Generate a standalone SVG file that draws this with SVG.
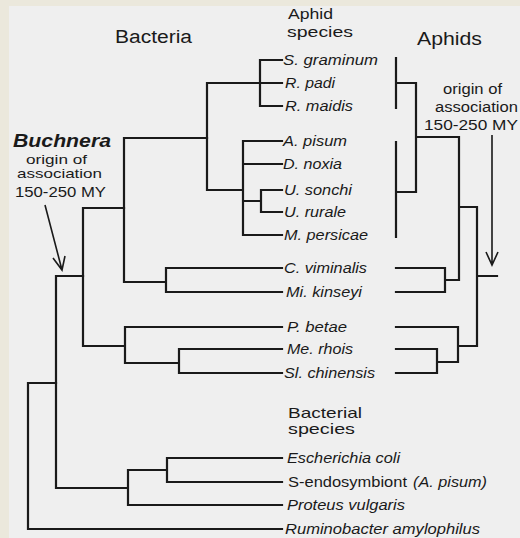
<svg xmlns="http://www.w3.org/2000/svg" width="520" height="538" viewBox="0 0 520 538">
<style>
text{font-family:"Liberation Sans",Arial,sans-serif;fill:#1a1a1a}
.lf{font-size:14px;font-style:italic}
.hd{font-size:18px}
.sm{font-size:14px}
.br{fill:none;stroke:#1a1a1a;stroke-width:2.2;stroke-linecap:square}
.ar{fill:none;stroke:#1a1a1a;stroke-width:1.6}
</style>
<rect x="0" y="0" width="520" height="538" fill="#ebe8dc"/>
<rect x="9" y="6" width="511" height="532" fill="#efefef"/>
<g id="headers">
<text class="hd" x="115" y="43" textLength="77" lengthAdjust="spacingAndGlyphs">Bacteria</text>
<text class="hd" x="417" y="45" textLength="65" lengthAdjust="spacingAndGlyphs">Aphids</text>
<text class="sm" x="288" y="19" style="font-size:15px" textLength="45" lengthAdjust="spacingAndGlyphs">Aphid</text>
<text class="sm" x="287" y="37" style="font-size:15px" textLength="66" lengthAdjust="spacingAndGlyphs">species</text>
<text class="sm" x="288" y="418" style="font-size:15px" textLength="74" lengthAdjust="spacingAndGlyphs">Bacterial</text>
<text class="sm" x="288" y="434" style="font-size:15px" textLength="67" lengthAdjust="spacingAndGlyphs">species</text>
</g>
<g id="buchnera-note">
<text x="13" y="147" style="font-size:18px;font-weight:bold;font-style:italic" textLength="98" lengthAdjust="spacingAndGlyphs">Buchnera</text>
<text class="sm" x="26" y="164" style="font-size:13.5px" textLength="61" lengthAdjust="spacingAndGlyphs">origin of</text>
<text class="sm" x="17" y="178" style="font-size:13.5px" textLength="85" lengthAdjust="spacingAndGlyphs">association</text>
<text class="sm" x="15" y="197" textLength="91" lengthAdjust="spacingAndGlyphs">150-250 MY</text>
</g>
<g id="aphid-note">
<text class="sm" x="443" y="94" textLength="59" lengthAdjust="spacingAndGlyphs">origin of</text>
<text class="sm" x="435" y="112" textLength="83" lengthAdjust="spacingAndGlyphs">association</text>
<text class="sm" x="424" y="130" textLength="94" lengthAdjust="spacingAndGlyphs">150-250 MY</text>
</g>
<g id="leaves">
<text id="n-sgr" class="lf" x="283" y="65" textLength="95" lengthAdjust="spacingAndGlyphs">S. graminum</text>
<text id="n-rpa" class="lf" x="285" y="88" textLength="50" lengthAdjust="spacingAndGlyphs">R. padi</text>
<text id="n-rma" class="lf" x="285" y="111" textLength="68" lengthAdjust="spacingAndGlyphs">R. maidis</text>
<text id="n-api" class="lf" x="283" y="146" textLength="64" lengthAdjust="spacingAndGlyphs">A. pisum</text>
<text id="n-dno" class="lf" x="283" y="169" textLength="59" lengthAdjust="spacingAndGlyphs">D. noxia</text>
<text id="n-uso" class="lf" x="284" y="195" textLength="68" lengthAdjust="spacingAndGlyphs">U. sonchi</text>
<text id="n-uru" class="lf" x="284" y="217" textLength="62" lengthAdjust="spacingAndGlyphs">U. rurale</text>
<text id="n-mpe" class="lf" x="284" y="240" textLength="84" lengthAdjust="spacingAndGlyphs">M. persicae</text>
<text id="n-cvi" class="lf" x="284" y="273" textLength="83" lengthAdjust="spacingAndGlyphs">C. viminalis</text>
<text id="n-mki" class="lf" x="286" y="297" textLength="76" lengthAdjust="spacingAndGlyphs">Mi. kinseyi</text>
<text id="n-pbe" class="lf" x="287" y="332" textLength="60" lengthAdjust="spacingAndGlyphs">P. betae</text>
<text id="n-mrh" class="lf" x="287" y="354" textLength="66" lengthAdjust="spacingAndGlyphs">Me. rhois</text>
<text id="n-sch" class="lf" x="284" y="378" textLength="91" lengthAdjust="spacingAndGlyphs">Sl. chinensis</text>
<text id="n-eco" class="lf" x="287" y="463" textLength="113" lengthAdjust="spacingAndGlyphs">Escherichia coli</text>
<g id="n-sen">
<text style="font-size:14px" x="288" y="487" textLength="119" lengthAdjust="spacingAndGlyphs">S-endosymbiont</text>
<text class="lf" x="413" y="487" textLength="74" lengthAdjust="spacingAndGlyphs">(A. pisum)</text>
</g>
<text id="n-pvu" class="lf" x="287" y="510" textLength="118" lengthAdjust="spacingAndGlyphs">Proteus vulgaris</text>
<text id="n-ram" class="lf" x="285" y="534" textLength="195" lengthAdjust="spacingAndGlyphs">Ruminobacter amylophilus</text>
</g>
<g id="connectors">
<path class="br" d="M282,60 H260 V106 H282 M207,83 H282 M207,83 V190 H243 M282,141 H243 V235 H282 M243,164 H282 M243,201 H261 M282,190 H261 V212 H282"/>
<path class="br" d="M207,138 H124 V282 H166 M282,268 H166 V292 H282"/>
<path class="br" d="M124,208 H83 V346 H125 M282,327 H125 V363 H179 M282,349 H179 V373 H282"/>
<path class="br" d="M83,276 H56 V488 H128 M282,505 H128 V470 H167 M282,458 H167 V482 H282"/>
<path class="br" d="M56,383 H28 V529 H282"/>
<path class="br" d="M396,58 V108 M396,142 V237 M396,83 H416 V192 H396 M416,137 H459 V280 H445 M396,268 H445 V292 H396 M459,207 H477 V346 H458 M396,327 H458 V362 H437 M396,349 H437 V373 H396 M477,276 H497"/>
<path class="ar" d="M492,135 V265 M486,252 L492,265 L498,252"/>
<path class="ar" d="M45,205 L62,270 M53,258 L62,270 L65,256"/>
</g>
</svg>
